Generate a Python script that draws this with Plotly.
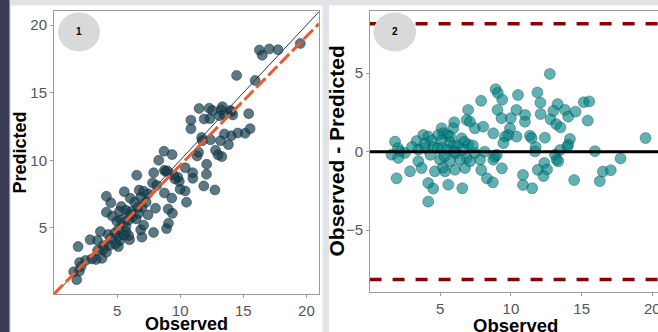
import plotly.graph_objects as go
import numpy as np

# ---- data (right panel: observed vs observed - predicted) ----
observed = [12.75, 8.92, 9.07, 9.38, 7.89, 10.5, 11.87, 12.08, 6.97, 9.05,
            10.39, 11.0, 9.33, 9.99, 12.1, 12.8, 13.3, 13.82, 14.05, 14.57,
            15.15, 15.54, 15.43, 13.2, 13.5, 13.0, 6.87, 7.1, 5.99, 5.92,
            5.1, 5.21, 4.86, 5.52, 5.69, 6.51, 3.8, 4.15, 3.33, 1.8,
            7.45, 8.04, 8.75, 9.93, 9.81, 9.58, 10.4, 11.34, 12.4, 10.99,
            14.17, 19.52, 14.05, 13.98, 13.47, 15.94, 17.75, 11.7, 11.75, 13.11,
            13.23, 13.35, 12.36, 9.46, 6.98, 6.87, 7.45, 7.81, 8.75, 8.14,
            8.85, 2.15, 1.56, 2.5, 3.45, 2.03, 3.45, 4.98, 5.69, 6.39,
            2.01, 4.4, 5.1, 5.7, 6.2, 6.7, 3.92, 5.1, 5.92, 6.63,
            4.5, 5.5, 6.1, 4.3, 5.3, 6.75, 6.04, 5.33, 4.62, 2.86,
            3.68, 1.91, 4.15, 4.5, 5.57, 6.56, 4.15, 7.9, 8.3, 8.72,
            9.36, 10.85, 10.85, 11.5, 11.9, 12.55, 12.3, 14.47, 16.28, 16.5,
            17.06, 5.19, 7.1, 11.46, 3.0, 3.9, 4.8, 6.0, 7.3, 9.0]
difference = [4.95, 3.98, 3.74, 3.31, 3.24, 3.61, 3.77, 3.12, 2.66, 2.66,
              2.66, 2.34, 2.13, 2.13, 2.4, 2.06, 3.03, 2.66, 2.23, 2.55,
              3.15, 3.2, 1.98, 1.75, 1.55, 2.6, 2.02, 1.91, 1.87, 1.49,
              1.49, 1.17, 1.06, 1.06, 0.96, 0.85, 1.06, 0.96, 0.68, 0.64,
              1.49, 1.59, 1.17, 1.49, 1.06, 0.96, 0.96, 1.02, 0.89, 1.91,
              0.81, 0.87, 0.45, 0.3, 0.1, 0.03, -0.43, 0.02, 0.3, -0.19,
              -0.51, -0.61, -0.72, 0.55, 0.45, -0.4, -0.08, -0.51, -0.51, 0.0,
              -0.32, 0.02, -0.19, -0.08, 0.13, -0.4, -0.61, -0.51, -0.61, -0.51,
              0.22, 0.7, 0.72, 0.6, 0.4, 0.62, 0.24, 0.24, 0.34, 0.13,
              0.3, 0.1, -0.1, -0.2, -0.3, -1.04, -1.15, -1.25, -1.25, -1.25,
              -1.04, -1.7, -2.0, -2.35, -2.1, -2.33, -3.18, -1.17, -1.7, -1.95,
              -1.06, -1.48, -2.12, -2.33, -1.16, -1.13, -1.55, -1.81, -1.88, -1.27,
              -1.18, -1.02, -0.61, 0.87, 0.3, 0.5, 0.2, 0.0, 0.4, -0.2]
predicted = [o - d for o, d in zip(observed, difference)]

fit_intercept = 0.1      # dashed regression line in panel 1
fit_slope = 0.953
limits = [8.15, -8.15]   # dashed limit lines in panel 2
x_ticks = [5, 10, 15, 20]
y_ticks_left = [5, 10, 15, 20]
y_ticks_right = [-5, 0, 5]

W, H = 658, 332
def px(x): return x / W
def py(y): return 1 - y / H

fig = go.Figure()

# panel 1
fig.add_trace(go.Scatter(x=[0, 21], y=[0, 21], mode="lines",
                         line=dict(color="black", width=0.8), xaxis="x", yaxis="y", showlegend=False))
fig.add_trace(go.Scatter(x=observed, y=predicted, mode="markers",
                         marker=dict(size=10, color="rgba(22,62,78,0.7)",
                                     line=dict(color="rgba(10,35,45,0.7)", width=0.6)),
                         xaxis="x", yaxis="y", showlegend=False))
fx = [0, 21]
fig.add_trace(go.Scatter(x=fx, y=[fit_intercept + fit_slope * v for v in fx], mode="lines",
                         line=dict(color="#EE5A30", width=3, dash="13px,4px"),
                         xaxis="x", yaxis="y", showlegend=False))

# panel 2
fig.add_trace(go.Scatter(x=observed, y=difference, mode="markers",
                         marker=dict(size=11, color="rgba(0,128,130,0.62)",
                                     line=dict(color="rgba(0,60,60,0.6)", width=0.6)),
                         xaxis="x2", yaxis="y2", showlegend=False))
for lim in limits:
    fig.add_trace(go.Scatter(x=[0, 21], y=[lim, lim], mode="lines",
                             line=dict(color="#8B0000", width=3.5, dash="12px,11px"),
                             xaxis="x2", yaxis="y2", showlegend=False))
fig.add_trace(go.Scatter(x=[0, 21], y=[0, 0], mode="lines",
                         line=dict(color="black", width=3),
                         xaxis="x2", yaxis="y2", showlegend=False))

axis_common = dict(showgrid=False, zeroline=False, showline=True, linecolor="#9a9a9a", linewidth=1,
                   mirror=True, ticks="outside", ticklen=3, tickcolor="#9a9a9a",
                   tickfont=dict(family="Liberation Sans, Arial", size=15, color="#555555"),
                   ticklabeloverflow="allow", automargin=False)

def label(text, x, y, size, angle=0):
    return dict(text=text, x=px(x), y=py(y), xref="paper", yref="paper", showarrow=False,
                xanchor="center", yanchor="middle", textangle=angle,
                font=dict(family="Liberation Sans, Arial", size=size, color="black"))

fig.update_layout(
    width=W, height=H, margin=dict(l=0, r=0, t=0, b=0),
    paper_bgcolor="#e1e3e7", plot_bgcolor="white",
    xaxis=dict(domain=[px(54), px(319)], range=[0, 21], tickvals=x_ticks, anchor="y", **axis_common),
    yaxis=dict(domain=[py(294), py(11)], range=[0.1, 21.05], tickvals=y_ticks_left, anchor="x", **axis_common),
    xaxis2=dict(domain=[px(370), 1.0], range=[0.03, 20.4], tickvals=x_ticks, anchor="y2", **axis_common),
    yaxis2=dict(domain=[py(291.7), py(11)], range=[-8.92, 8.96], tickvals=y_ticks_right, anchor="x2", **axis_common),
    shapes=[
        dict(type="rect", xref="paper", yref="paper", x0=px(11), x1=px(322.5), y0=py(332), y1=py(5.5),
             fillcolor="white", line=dict(width=0), layer="below"),
        dict(type="rect", xref="paper", yref="paper", x0=px(329), x1=px(660), y0=py(332), y1=py(5.5),
             fillcolor="white", line=dict(width=0), layer="below"),
        dict(type="rect", xref="paper", yref="paper", x0=px(-2), x1=px(9.5), y0=py(334), y1=py(-2),
             fillcolor="#3b3a57", line=dict(width=0), layer="below"),
        dict(type="circle", xref="paper", yref="paper", x0=px(58), x1=px(100), y0=py(51.5), y1=py(12.5),
             fillcolor="#d9d9d9", line=dict(width=0)),
        dict(type="circle", xref="paper", yref="paper", x0=px(373.5), x1=px(416), y0=py(51.5), y1=py(12.5),
             fillcolor="#d9d9d9", line=dict(width=0)),
    ],
    annotations=[
        label("<b>1</b>", 79, 32, 10),
        label("<b>2</b>", 394.7, 32, 10),
        label("<b>Observed</b>", 186.5, 324, 18),
        label("<b>Predicted</b>", 20, 152.5, 18, -90),
        label("<b>Observed</b>", 515, 325, 18.5),
        label("<b>Observed - Predicted</b>", 336, 151.5, 21, -90),
    ],
)

fig.write_html("out.html", config={"displayModeBar": False},
               post_script="document.body.style.margin='0';document.body.style.overflow='hidden';")
